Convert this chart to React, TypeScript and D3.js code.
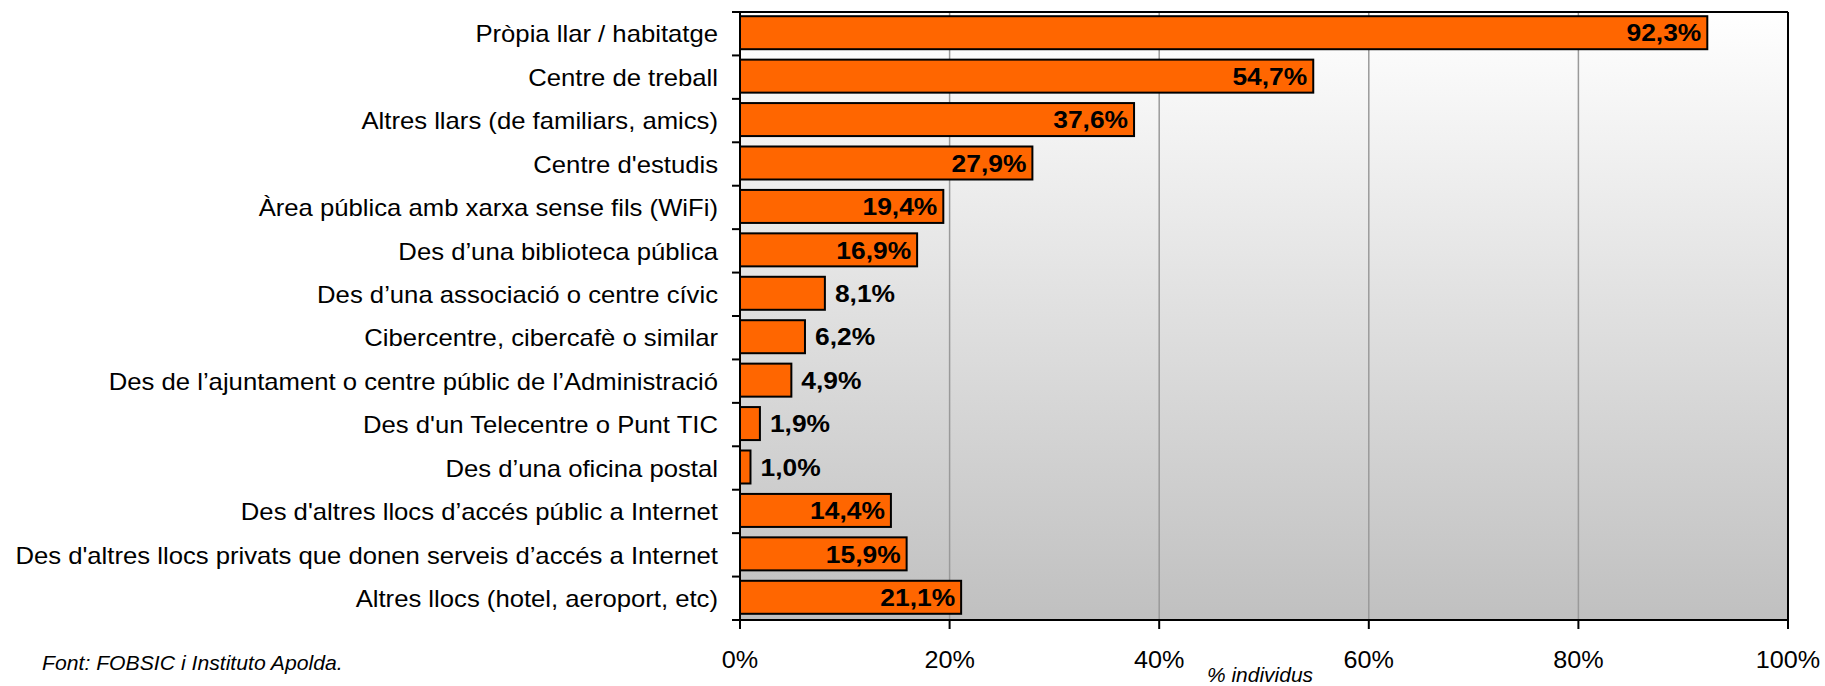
import React from "react";
import * as d3 from "d3";

const categories: string[] = [
  "Pròpia llar / habitatge",
  "Centre de treball",
  "Altres llars (de familiars, amics)",
  "Centre d'estudis",
  "Àrea pública amb xarxa sense fils (WiFi)",
  "Des d’una biblioteca pública",
  "Des d’una associació o centre cívic",
  "Cibercentre, cibercafè o similar",
  "Des de l’ajuntament o centre públic de l’Administració",
  "Des d'un Telecentre o Punt TIC",
  "Des d’una oficina postal",
  "Des d'altres llocs d’accés públic a Internet",
  "Des d'altres llocs privats que donen serveis d’accés a Internet",
  "Altres llocs (hotel, aeroport, etc)",
];

const values: number[] = [92.3, 54.7, 37.6, 27.9, 19.4, 16.9, 8.1, 6.2, 4.9, 1.9, 1.0, 14.4, 15.9, 21.1];

const xTicks: number[] = [0, 20, 40, 60, 80, 100];
const xTitle = "% individus";
const source = "Font: FOBSIC i Instituto Apolda.";

const W = 1825;
const H = 686;
const M = { left: 740, right: 1788, top: 12, bottom: 620 };
const FONT = "'Liberation Sans', Arial, sans-serif";

type TProps = {
  x: number;
  y: number;
  sx?: number;
  anchor?: "start" | "middle" | "end";
  size: number;
  bold?: boolean;
  italic?: boolean;
  children: React.ReactNode;
};

function T({ x, y, sx = 1.1, anchor = "start", size, bold, italic, children }: TProps) {
  return (
    <g transform={`translate(${x},${y}) scale(${sx},1)`}>
      <text
        x={0}
        y={0}
        dy="0.36em"
        textAnchor={anchor}
        fontSize={size}
        fontWeight={bold ? "bold" : "normal"}
        fontStyle={italic ? "italic" : "normal"}
        fill="#000"
      >
        {children}
      </text>
    </g>
  );
}

export default function App() {
  const x = d3.scaleLinear().domain([0, 100]).range([M.left, M.right]);
  const y = d3
    .scaleBand<string>()
    .domain(categories)
    .range([M.top, M.bottom])
    .paddingInner(0.24)
    .paddingOuter(0.12);
  const step = y.step();
  const fmt = (v: number) => v.toFixed(1).replace(".", ",") + "%";
  const bandEdges = d3.range(categories.length + 1).map((i) => M.top + (i * (M.bottom - M.top)) / categories.length);

  return (
    <svg
      width={W}
      height={H}
      style={{ position: "absolute", left: 0, top: 0, background: "#fff" }}
      fontFamily={FONT}
    >
      <defs>
        <linearGradient id="bg" x1="0" y1="0" x2="0" y2="1">
          <stop offset="0%" stopColor="#FFFFFF" />
          <stop offset="100%" stopColor="#C0C0C0" />
        </linearGradient>
      </defs>
      <rect x={M.left} y={M.top} width={M.right - M.left} height={M.bottom - M.top} fill="url(#bg)" />
      {xTicks.slice(1, -1).map((t) => (
        <line key={t} x1={x(t)} x2={x(t)} y1={M.top} y2={M.bottom} stroke="#9A9A9A" strokeWidth={1.5} />
      ))}
      <line x1={M.left} x2={M.right} y1={M.top} y2={M.top} stroke="#000" strokeWidth={2} />
      <line x1={M.right} x2={M.right} y1={M.top} y2={M.bottom} stroke="#000" strokeWidth={2} />
      {categories.map((c, i) => {
        const v = values[i];
        const by = y(c)! - 1;
        const bh = y.bandwidth();
        const inside = v >= 10;
        return (
          <g key={c}>
            <rect x={x(0)} y={by} width={x(v) - x(0)} height={bh} fill="#FF6600" stroke="#000" strokeWidth={2} />
            <T x={inside ? x(v) - 6 : x(v) + 10} y={by + bh / 2} anchor={inside ? "end" : "start"} size={24} bold>
              {fmt(v)}
            </T>
            <T x={M.left - 22} y={M.top + step * (i + 0.5)} anchor="end" size={24} sx={1.07}>
              {c}
            </T>
          </g>
        );
      })}
      <line x1={M.left} x2={M.left} y1={M.top} y2={M.bottom + 9} stroke="#000" strokeWidth={2} />
      <line x1={M.left - 8} x2={M.right} y1={M.bottom} y2={M.bottom} stroke="#000" strokeWidth={2} />
      {bandEdges.map((e, i) => (
        <line key={i} x1={M.left - 8} x2={M.left} y1={e} y2={e} stroke="#000" strokeWidth={2} />
      ))}
      {xTicks.map((t) => (
        <g key={t}>
          <line x1={x(t)} x2={x(t)} y1={M.bottom} y2={M.bottom + 9} stroke="#000" strokeWidth={2} />
          <T x={x(t)} y={659} anchor="middle" size={24} sx={1.05}>
            {t + "%"}
          </T>
        </g>
      ))}
      <T x={1260} y={675} anchor="middle" size={20} italic sx={1.05}>
        {xTitle}
      </T>
      <T x={42} y={663} anchor="start" size={20} italic sx={1.06}>
        {source}
      </T>
    </svg>
  );
}
